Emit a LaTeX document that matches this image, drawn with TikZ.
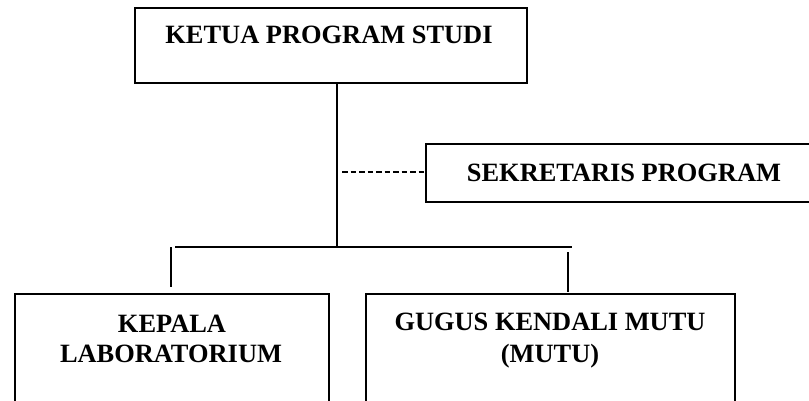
\documentclass[tikz,border=0pt]{standalone}
\usepackage{fontspec}
\setmainfont{Liberation Serif}
\begin{document}
\begin{tikzpicture}[x=1pt,y=-1pt,
  box/.style={draw=black,line width=1.8pt,rectangle,inner sep=0pt},
  lbl/.style={inner sep=0pt,anchor=base,font=\fontsize{26.4}{31}\selectfont\bfseries},
  conn/.style={draw=black,line width=1.8pt},
  dconn/.style={draw=black,line width=1.6pt,dash pattern=on 5.5pt off 3pt}]
\useasboundingbox (0,0) rectangle (809,401);
\clip (0,0) rectangle (809,401);
\fill[white] (0,0) rectangle (809,401);
% boxes
\node[box,minimum width=392pt,minimum height=75pt] (ketua) at (331,45.5) {};
\node[box,minimum width=414pt,minimum height=58pt] (sek) at (633,173) {};
\node[box,minimum width=314pt,minimum height=166pt] (lab) at (172,377) {};
\node[box,minimum width=369pt,minimum height=166pt] (mutu) at (550.5,377) {};
% texts
\node[lbl] (tketua) at (329,44) {KETUA PROGRAM STUDI};
\node[lbl] (tsek) at (624,182) {SEKRETARIS PROGRAM};
\node[lbl] (tlab1) at (172,332) {KEPALA};
\node[lbl] (tlab2) at (171,362) {LABORATORIUM};
\node[lbl] (tmutu1) at (550,330) {GUGUS KENDALI MUTU};
\node[lbl] (tmutu2) at (550,362) {(MUTU)};
% connectors
\coordinate (j) at (337,247);
\coordinate (hl) at (175,247);
\coordinate (hr) at (572,247);
\coordinate (sl1) at (171,247);
\coordinate (sl2) at (171,287);
\coordinate (sr1) at (568,252);
\coordinate (sr2) at (568,292);
\coordinate (d) at (342,172);
\draw[conn] (ketua.south -| j) -- (j);
\draw[conn] (hl) -- (hr);
\draw[conn] (sl1) -- (sl2);
\draw[conn] (sr1) -- (sr2);
\draw[dconn] (d) -- (d -| sek.west);
\end{tikzpicture}
\end{document}
